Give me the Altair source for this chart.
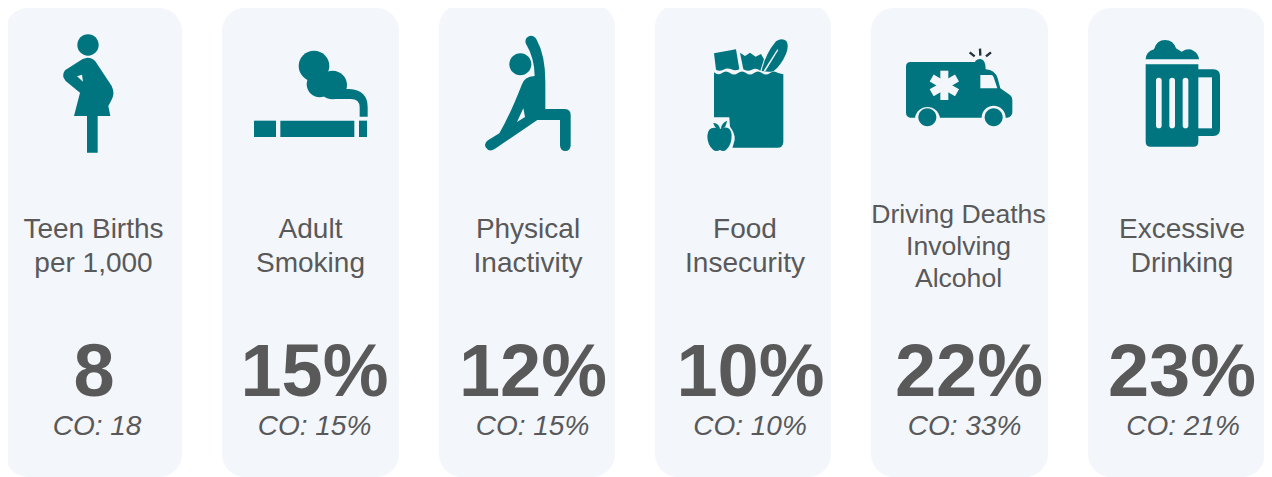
import math
import altair as alt
import pandas as pd

TEAL = "#00757f"
BG = "#f3f6fb"
GREY = "#595959"
DARK = "#22313a"

card_left = [5, 222, 439, 655, 871, 1088]
card_right = [182, 399, 615, 831, 1048, 1265]
card_top = [8, 8, 4, 4, 8, 8]
card_bottom = [477, 477, 477, 477, 477, 477]

label_text = ["Teen Births", "per 1,000", "Adult", "Smoking", "Physical", "Inactivity", "Food", "Insecurity",
              "Driving Deaths", "Involving", "Alcohol", "Excessive", "Drinking"]
label_x = [93.5, 93.5, 310.5, 310.5, 528, 528, 745, 745, 958.5, 958.5, 958.5, 1182, 1182]
label_y = [238, 272, 238, 272, 238, 272, 238, 272, 223, 255, 287, 238, 272]
label_size = [28, 28, 28, 28, 28, 28, 28, 28, 26.6, 26.6, 26.6, 28, 28]

value_text = ["8", "15%", "12%", "10%", "22%", "23%"]
value_x = [94, 314.5, 533, 750.5, 969, 1182]
value_y = [396, 396, 396, 396, 396, 396]

co_text = ["CO: 18", "CO: 15%", "CO: 15%", "CO: 10%", "CO: 33%", "CO: 21%"]
co_x = [97, 314.5, 532.5, 750, 964.5, 1183]
co_y = [435, 435, 435, 435, 435, 435]


def circle(cx, cy, r):
    return f"M{cx - r} {cy}a{r} {r} 0 1 0 {2 * r} 0a{r} {r} 0 1 0 {-2 * r} 0Z"


def bar(x0, y0, x1, y1, w):
    dx, dy = x1 - x0, y1 - y0
    n = math.hypot(dx, dy)
    ox, oy = -dy / n * w / 2, dx / n * w / 2
    return (f"M{x0 + ox:.1f} {y0 + oy:.1f}L{x1 + ox:.1f} {y1 + oy:.1f}"
            f"L{x1 - ox:.1f} {y1 - oy:.1f}L{x0 - ox:.1f} {y0 - oy:.1f}Z")


def slot(x0, x1, y0, y1):
    r = (x1 - x0) / 2
    return (f"M{x0} {y0 + r}Q{x0} {y0} {x0 + r} {y0}Q{x1} {y0} {x1} {y0 + r}L{x1} {y1 - r}"
            f"Q{x1} {y1} {x0 + r} {y1}Q{x0} {y1} {x0} {y1 - r}Z")


# glyph outlines, drawn in the units of a 3x crop and placed at the crop origin
icon_parts = [
    # pregnant figure
    (0, 0, TEAL, circle(264, 135, 32)),
    (0, 0, TEAL, "M262 173Q278 173 287 185L335 258Q345 280 336 297L325 318L331 348L293 348L293 458L261 458L261 348"
                  "L222 348L240 278L197 243Q183 228 195 211L248 177Z"),
    (0, 0, BG, "M231 229L246 224L249 245Z"),
    # cigarette
    (220, 30, TEAL, "M102 272H168V321H102Z"),
    (220, 30, TEAL, "M181 272H403V321H181Z"),
    (220, 30, TEAL, "M417 272H441V321H417Z"),
    (220, 30, TEAL, circle(282, 108, 46)),
    (220, 30, TEAL, circle(299, 163, 39)),
    (220, 30, TEAL, circle(338, 165, 43)),
    (220, 30, TEAL, "M350 178L388 177Q443 180 443 232L443 260L419 260L419 232Q419 207 392 207L345 207Z"),
    # stretching figure
    (460, 25, TEAL, circle(181, 118, 33)),
    (460, 25, TEAL, "M197 55Q193 36 212 32Q224 32 230 44Q256 90 256 170L256 252L315 252Q332 254 332 270L332 362"
                    "Q330 378 316 378Q302 378 300 362L300 285L232 285L104 372Q88 382 78 368Q70 355 84 346L118 325"
                    "Q150 270 185 180Q192 155 224 153Q224 100 197 55Z"),
    (460, 25, BG, "M171 291L190 250L195 276Z"),
    # grocery bag
    (690, 30, TEAL, "M72 127Q84 137 96 129Q108 120 120 129Q132 138 144 129Q156 120 168 129Q180 138 192 129"
                    "Q204 120 216 129Q228 138 240 129Q252 120 264 129L280 133L280 335Q280 353 262 353L90 353"
                    "Q72 353 72 335Z"),
    (690, 30, TEAL, "M72 70L138 58L148 118Q136 124 124 118Q112 112 100 119Q88 125 78 119Z"),
    (690, 30, TEAL, "M150 68L165 78L180 68L197 80L213 72L222 88L211 122Q198 112 186 119Q172 126 160 118Z"),
    (690, 30, TEAL, "M215 122Q226 72 258 34Q276 22 289 33Q298 46 288 72Q272 108 250 124Q232 128 215 122Z"),
    (690, 30, BG, "M221 122L262 58L265 60L226 124Z"),
    (690, 30, BG, "M60 262L118 262L120 290Q136 310 134 330Q130 352 118 372L40 372L40 300L60 280Z"),
    (690, 30, TEAL, "M90 297Q122 282 125 315Q125 345 108 360Q100 366 90 360Q78 366 70 360Q52 345 52 318Q54 284 90 297Z"),
    (690, 30, TEAL, "M90 298Q88 280 70 278Q72 295 90 298Z"),
    (690, 30, TEAL, "M92 298Q94 278 112 272L105 292Z"),
    # ambulance
    (895, 40, TEAL, "M33 80Q33 66 47 66L240 66Q242 58 256 57Q272 58 272 88Q300 90 308 115L316 145L345 165"
                    "Q352 170 352 180L352 218Q350 230 338 233L332 233A36 36 0 0 0 260 233L135 233A38 38 0 0 0 60 233"
                    "L45 233Q33 230 33 218Z"),
    (895, 40, TEAL, circle(97, 232, 27)),
    (895, 40, TEAL, circle(296, 232, 27)),
    (895, 40, BG, "M256 105L288 105Q294 105 296 112L307 145L256 145Z"),
    (895, 40, BG, bar(148, 92, 148, 180, 24)),
    (895, 40, BG, bar(110, 114, 186, 158, 24)),
    (895, 40, BG, bar(110, 158, 186, 114, 24)),
    (895, 40, DARK, bar(224, 37, 239, 49, 7)),
    (895, 40, DARK, bar(255, 26, 256, 47, 7)),
    (895, 40, DARK, bar(288, 37, 273, 49, 7)),
    # beer mug
    (1130, 30, TEAL, "M47 88Q48 65 72 58Q80 30 105 30Q130 30 138 55L155 65Q175 52 190 62Q205 70 207 88Z"),
    (1130, 30, TEAL, "M47 103L205 103L205 118L250 118Q270 118 270 138L270 298Q270 318 250 318L205 318L205 335"
                     "Q205 350 190 350L62 350Q47 350 47 335Z"),
    (1130, 30, BG, "M205 142L246 142L246 295L205 295Z"),
    (1130, 30, BG, slot(78, 95, 143, 295)),
    (1130, 30, BG, slot(118, 135, 143, 295)),
    (1130, 30, BG, slot(158, 175, 143, 295)),
]

cards = pd.DataFrame({"x": card_left, "x2": card_right, "y": card_top, "y2": card_bottom})
icons = pd.DataFrame(
    {
        "x": [p[0] for p in icon_parts],
        "y": [p[1] for p in icon_parts],
        "fill": [p[2] for p in icon_parts],
        "path": [p[3] for p in icon_parts],
    }
)
labels = pd.DataFrame({"t": label_text, "x": label_x, "y": label_y, "s": label_size})
values = pd.DataFrame({"t": value_text, "x": value_x, "y": value_y})
cos = pd.DataFrame({"t": co_text, "x": co_x, "y": co_y})

X = alt.X("x:Q", axis=None, scale=alt.Scale(domain=[8, 1264], nice=False, zero=False))
Y = alt.Y("y:Q", axis=None, scale=alt.Scale(domain=[477, 8], nice=False, zero=False))

card_layer = alt.Chart(cards).mark_rect(cornerRadius=23, color=BG).encode(
    x=X, x2="x2:Q", y=Y, y2="y2:Q"
)
icon_layer = alt.Chart(icons).mark_point(filled=True, opacity=1, strokeWidth=0).encode(
    x=X,
    y=Y,
    shape=alt.Shape("path:N", scale=None),
    color=alt.Color("fill:N", scale=None),
    size=alt.value(4 / 9),
    order=alt.Order("row:Q"),
).transform_window(row="row_number()")


def text_layer(df, **kw):
    return alt.Chart(df).mark_text(
        font="Liberation Sans", color=GREY, align="center", baseline="alphabetic", **kw
    ).encode(x=X, y=Y, text="t:N")


label_layer = alt.Chart(labels).mark_text(
    font="Liberation Sans", color=GREY, align="center", baseline="alphabetic"
).encode(x=X, y=Y, text="t:N", size=alt.Size("s:Q", scale=None))

chart = alt.layer(
    card_layer,
    icon_layer,
    label_layer,
    text_layer(values, fontSize=74, fontWeight="bold"),
    text_layer(cos, fontSize=28, fontStyle="italic"),
).properties(
    width=1256,
    height=469,
    padding=0,
    autosize=alt.AutoSizeParams(type="none"),
    background="#ffffff",
).configure_view(stroke=None)

chart.save("out.html", embed_options={"renderer": "svg", "actions": False})
